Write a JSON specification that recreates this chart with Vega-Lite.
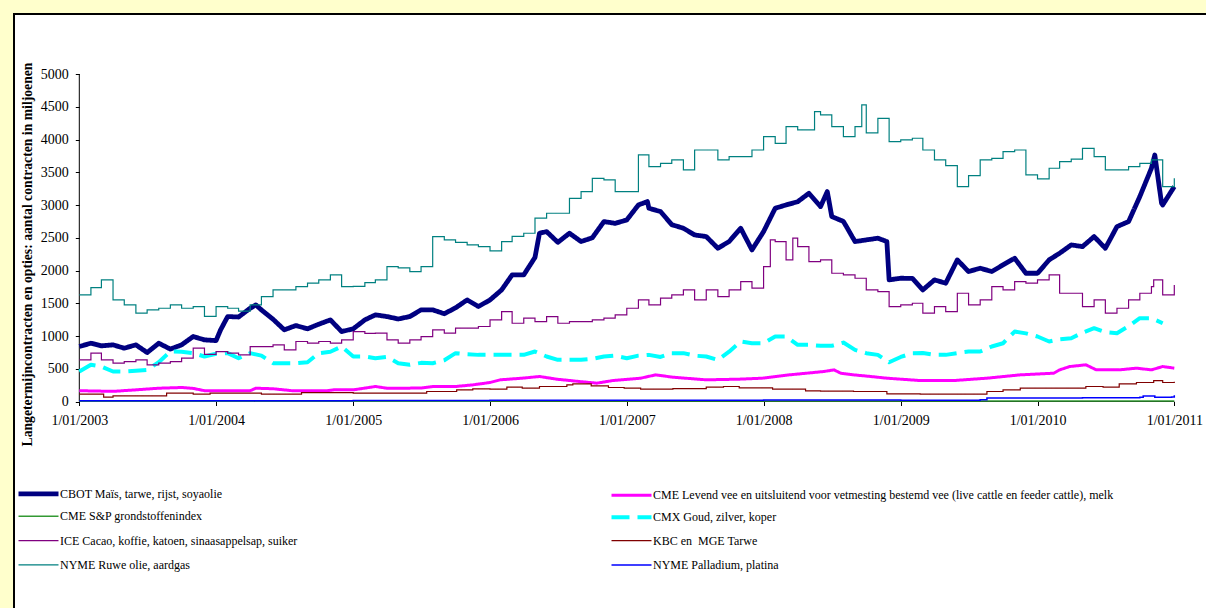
{
"$schema":"https://vega.github.io/schema/vega-lite/v6.json",
"width":1198,"height":600,
"autosize":{"type":"none"},
"padding":{"left":14,"top":14,"right":-6,"bottom":-6},
"background":"#FFFFCC",
"config":{"font":"Liberation Serif","view":{"fill":"white","stroke":"black","strokeWidth":2}},
"datasets":{
"names":[
{"code":"CBOT","name":"CBOT Maïs, tarwe, rijst, soyaolie"},
{"code":"CMELV","name":"CME Levend vee en uitsluitend voor vetmesting bestemd vee (live cattle en feeder cattle), melk"},
{"code":"CMESP","name":"CME S&P grondstoffenindex"},
{"code":"CMX","name":"CMX Goud, zilver, koper"},
{"code":"ICE","name":"ICE Cacao, koffie, katoen, sinaasappelsap, suiker"},
{"code":"KBC","name":"KBC en\u00a0 MGE Tarwe"},
{"code":"NYR","name":"NYME Ruwe olie, aardgas"},
{"code":"NYP","name":"NYME Palladium, platina"}
],
"pts":[
{"date":"2003-01-01","code":"NYR","value":1628},{"date":"2003-02-01","code":"NYR","value":1740},{"date":"2003-03-01","code":"NYR","value":1857},{"date":"2003-04-01","code":"NYR","value":1551},{"date":"2003-05-01","code":"NYR","value":1475},{"date":"2003-06-01","code":"NYR","value":1348},{"date":"2003-07-01","code":"NYR","value":1399},{"date":"2003-08-01","code":"NYR","value":1424},{"date":"2003-09-01","code":"NYR","value":1475},{"date":"2003-10-01","code":"NYR","value":1424},{"date":"2003-11-01","code":"NYR","value":1450},{"date":"2003-12-01","code":"NYR","value":1300},
{"date":"2004-01-01","code":"NYR","value":1450},{"date":"2004-02-01","code":"NYR","value":1424},{"date":"2004-03-01","code":"NYR","value":1380},{"date":"2004-04-01","code":"NYR","value":1475},{"date":"2004-05-01","code":"NYR","value":1602},{"date":"2004-06-01","code":"NYR","value":1704},{"date":"2004-07-01","code":"NYR","value":1704},{"date":"2004-08-01","code":"NYR","value":1755},{"date":"2004-09-01","code":"NYR","value":1806},{"date":"2004-10-01","code":"NYR","value":1857},{"date":"2004-11-01","code":"NYR","value":1933},{"date":"2004-12-01","code":"NYR","value":1755},
{"date":"2005-01-01","code":"NYR","value":1757},{"date":"2005-02-01","code":"NYR","value":1816},{"date":"2005-03-01","code":"NYR","value":1857},{"date":"2005-04-01","code":"NYR","value":2060},{"date":"2005-05-01","code":"NYR","value":2040},{"date":"2005-06-01","code":"NYR","value":1984},{"date":"2005-07-01","code":"NYR","value":2060},{"date":"2005-08-01","code":"NYR","value":2518},{"date":"2005-09-01","code":"NYR","value":2467},{"date":"2005-10-01","code":"NYR","value":2430},{"date":"2005-11-01","code":"NYR","value":2391},{"date":"2005-12-01","code":"NYR","value":2365},
{"date":"2006-01-01","code":"NYR","value":2300},{"date":"2006-02-01","code":"NYR","value":2442},{"date":"2006-03-01","code":"NYR","value":2520},{"date":"2006-04-01","code":"NYR","value":2569},{"date":"2006-05-01","code":"NYR","value":2800},{"date":"2006-06-01","code":"NYR","value":2874},{"date":"2006-07-01","code":"NYR","value":2874},{"date":"2006-08-01","code":"NYR","value":3100},{"date":"2006-09-01","code":"NYR","value":3205},{"date":"2006-10-01","code":"NYR","value":3408},{"date":"2006-11-01","code":"NYR","value":3383},{"date":"2006-12-01","code":"NYR","value":3205},
{"date":"2007-01-01","code":"NYR","value":3205},{"date":"2007-02-01","code":"NYR","value":3764},{"date":"2007-03-01","code":"NYR","value":3586},{"date":"2007-04-01","code":"NYR","value":3637},{"date":"2007-05-01","code":"NYR","value":3688},{"date":"2007-06-01","code":"NYR","value":3535},{"date":"2007-07-01","code":"NYR","value":3840},{"date":"2007-08-01","code":"NYR","value":3840},{"date":"2007-09-01","code":"NYR","value":3688},{"date":"2007-10-01","code":"NYR","value":3739},{"date":"2007-11-01","code":"NYR","value":3739},{"date":"2007-12-01","code":"NYR","value":3840},
{"date":"2008-01-01","code":"NYR","value":4044},{"date":"2008-02-01","code":"NYR","value":3942},{"date":"2008-03-01","code":"NYR","value":4197},{"date":"2008-04-01","code":"NYR","value":4146},{"date":"2008-05-01","code":"NYR","value":4146},{"date":"2008-05-16","code":"NYR","value":4426},{"date":"2008-06-01","code":"NYR","value":4375},{"date":"2008-07-01","code":"NYR","value":4197},{"date":"2008-08-01","code":"NYR","value":4044},{"date":"2008-09-01","code":"NYR","value":4197},{"date":"2008-09-19","code":"NYR","value":4530},{"date":"2008-10-01","code":"NYR","value":4100},{"date":"2008-11-01","code":"NYR","value":4324},{"date":"2008-12-01","code":"NYR","value":3968},
{"date":"2009-01-01","code":"NYR","value":3993},{"date":"2009-02-01","code":"NYR","value":4019},{"date":"2009-03-01","code":"NYR","value":3840},{"date":"2009-04-01","code":"NYR","value":3688},{"date":"2009-05-01","code":"NYR","value":3600},{"date":"2009-06-01","code":"NYR","value":3281},{"date":"2009-07-01","code":"NYR","value":3450},{"date":"2009-08-01","code":"NYR","value":3688},{"date":"2009-09-01","code":"NYR","value":3713},{"date":"2009-10-01","code":"NYR","value":3815},{"date":"2009-11-01","code":"NYR","value":3840},{"date":"2009-12-01","code":"NYR","value":3459},
{"date":"2010-01-01","code":"NYR","value":3400},{"date":"2010-02-01","code":"NYR","value":3561},{"date":"2010-03-01","code":"NYR","value":3662},{"date":"2010-04-01","code":"NYR","value":3700},{"date":"2010-05-01","code":"NYR","value":3866},{"date":"2010-06-01","code":"NYR","value":3739},{"date":"2010-07-01","code":"NYR","value":3535},{"date":"2010-08-01","code":"NYR","value":3535},{"date":"2010-09-01","code":"NYR","value":3586},{"date":"2010-10-01","code":"NYR","value":3637},{"date":"2010-11-01","code":"NYR","value":3688},{"date":"2010-12-01","code":"NYR","value":3281},{"date":"2011-01-01","code":"NYR","value":3408},

{"date":"2003-01-01","code":"CBOT","value":839},{"date":"2003-02-01","code":"CBOT","value":890},{"date":"2003-03-01","code":"CBOT","value":850},{"date":"2003-04-01","code":"CBOT","value":865},{"date":"2003-05-01","code":"CBOT","value":814},{"date":"2003-06-01","code":"CBOT","value":865},{"date":"2003-07-01","code":"CBOT","value":748},{"date":"2003-08-01","code":"CBOT","value":890},{"date":"2003-09-01","code":"CBOT","value":800},{"date":"2003-10-01","code":"CBOT","value":865},{"date":"2003-11-01","code":"CBOT","value":992},{"date":"2003-12-01","code":"CBOT","value":941},
{"date":"2004-01-01","code":"CBOT","value":930},{"date":"2004-01-13","code":"CBOT","value":1094},{"date":"2004-02-01","code":"CBOT","value":1297},{"date":"2004-03-01","code":"CBOT","value":1290},{"date":"2004-04-01","code":"CBOT","value":1424},{"date":"2004-04-16","code":"CBOT","value":1475},{"date":"2004-05-01","code":"CBOT","value":1399},{"date":"2004-06-01","code":"CBOT","value":1256},{"date":"2004-07-01","code":"CBOT","value":1094},{"date":"2004-08-01","code":"CBOT","value":1160},{"date":"2004-09-01","code":"CBOT","value":1110},{"date":"2004-10-01","code":"CBOT","value":1180},{"date":"2004-11-01","code":"CBOT","value":1246},{"date":"2004-12-01","code":"CBOT","value":1068},
{"date":"2005-01-01","code":"CBOT","value":1110},{"date":"2005-02-01","code":"CBOT","value":1246},{"date":"2005-03-01","code":"CBOT","value":1323},{"date":"2005-04-01","code":"CBOT","value":1297},{"date":"2005-05-01","code":"CBOT","value":1260},{"date":"2005-06-01","code":"CBOT","value":1297},{"date":"2005-07-01","code":"CBOT","value":1399},{"date":"2005-08-01","code":"CBOT","value":1399},{"date":"2005-09-01","code":"CBOT","value":1340},{"date":"2005-10-01","code":"CBOT","value":1430},{"date":"2005-11-01","code":"CBOT","value":1551},{"date":"2005-12-01","code":"CBOT","value":1450},
{"date":"2006-01-01","code":"CBOT","value":1551},{"date":"2006-02-01","code":"CBOT","value":1704},{"date":"2006-03-01","code":"CBOT","value":1933},{"date":"2006-04-01","code":"CBOT","value":1933},{"date":"2006-05-01","code":"CBOT","value":2200},{"date":"2006-05-13","code":"CBOT","value":2569},{"date":"2006-06-01","code":"CBOT","value":2594},{"date":"2006-07-01","code":"CBOT","value":2430},{"date":"2006-08-01","code":"CBOT","value":2569},{"date":"2006-09-01","code":"CBOT","value":2442},{"date":"2006-10-01","code":"CBOT","value":2500},{"date":"2006-11-01","code":"CBOT","value":2747},{"date":"2006-12-01","code":"CBOT","value":2720},
{"date":"2007-01-01","code":"CBOT","value":2772},{"date":"2007-02-01","code":"CBOT","value":3001},{"date":"2007-02-25","code":"CBOT","value":3052},{"date":"2007-03-01","code":"CBOT","value":2950},{"date":"2007-04-01","code":"CBOT","value":2900},{"date":"2007-05-01","code":"CBOT","value":2700},{"date":"2007-06-01","code":"CBOT","value":2645},{"date":"2007-07-01","code":"CBOT","value":2543},{"date":"2007-08-01","code":"CBOT","value":2518},{"date":"2007-09-01","code":"CBOT","value":2340},{"date":"2007-10-01","code":"CBOT","value":2442},{"date":"2007-11-01","code":"CBOT","value":2645},{"date":"2007-12-01","code":"CBOT","value":2315},
{"date":"2008-01-01","code":"CBOT","value":2594},{"date":"2008-02-01","code":"CBOT","value":2950},{"date":"2008-03-01","code":"CBOT","value":3001},{"date":"2008-04-01","code":"CBOT","value":3050},{"date":"2008-05-01","code":"CBOT","value":3179},{"date":"2008-06-01","code":"CBOT","value":2976},{"date":"2008-06-19","code":"CBOT","value":3205},{"date":"2008-07-01","code":"CBOT","value":2823},{"date":"2008-08-01","code":"CBOT","value":2750},{"date":"2008-09-01","code":"CBOT","value":2442},{"date":"2008-10-01","code":"CBOT","value":2467},{"date":"2008-11-01","code":"CBOT","value":2493},{"date":"2008-11-25","code":"CBOT","value":2442},{"date":"2008-12-01","code":"CBOT","value":1857},
{"date":"2009-01-01","code":"CBOT","value":1882},{"date":"2009-02-01","code":"CBOT","value":1880},{"date":"2009-03-01","code":"CBOT","value":1704},{"date":"2009-04-01","code":"CBOT","value":1857},{"date":"2009-05-01","code":"CBOT","value":1806},{"date":"2009-06-01","code":"CBOT","value":2162},{"date":"2009-07-01","code":"CBOT","value":1984},{"date":"2009-08-01","code":"CBOT","value":2035},{"date":"2009-09-01","code":"CBOT","value":1984},{"date":"2009-10-01","code":"CBOT","value":2086},{"date":"2009-11-01","code":"CBOT","value":2187},{"date":"2009-12-01","code":"CBOT","value":1958},
{"date":"2010-01-01","code":"CBOT","value":1958},{"date":"2010-02-01","code":"CBOT","value":2162},{"date":"2010-03-01","code":"CBOT","value":2264},{"date":"2010-04-01","code":"CBOT","value":2391},{"date":"2010-05-01","code":"CBOT","value":2365},{"date":"2010-06-01","code":"CBOT","value":2518},{"date":"2010-07-01","code":"CBOT","value":2340},{"date":"2010-08-01","code":"CBOT","value":2670},{"date":"2010-09-01","code":"CBOT","value":2747},{"date":"2010-10-01","code":"CBOT","value":3129},{"date":"2010-11-01","code":"CBOT","value":3561},{"date":"2010-11-10","code":"CBOT","value":3764},{"date":"2010-11-28","code":"CBOT","value":3027},{"date":"2010-12-01","code":"CBOT","value":3001},{"date":"2011-01-01","code":"CBOT","value":3281},

{"date":"2003-01-01","code":"ICE","value":636},{"date":"2003-02-01","code":"ICE","value":738},{"date":"2003-03-01","code":"ICE","value":636},{"date":"2003-04-01","code":"ICE","value":585},{"date":"2003-05-01","code":"ICE","value":610},{"date":"2003-06-01","code":"ICE","value":636},{"date":"2003-07-01","code":"ICE","value":560},{"date":"2003-08-01","code":"ICE","value":585},{"date":"2003-09-01","code":"ICE","value":610},{"date":"2003-10-01","code":"ICE","value":661},{"date":"2003-11-01","code":"ICE","value":814},{"date":"2003-12-01","code":"ICE","value":720},
{"date":"2004-01-01","code":"ICE","value":763},{"date":"2004-02-01","code":"ICE","value":738},{"date":"2004-03-01","code":"ICE","value":712},{"date":"2004-04-01","code":"ICE","value":839},{"date":"2004-05-01","code":"ICE","value":839},{"date":"2004-06-01","code":"ICE","value":865},{"date":"2004-07-01","code":"ICE","value":788},{"date":"2004-08-01","code":"ICE","value":916},{"date":"2004-09-01","code":"ICE","value":890},{"date":"2004-10-01","code":"ICE","value":916},{"date":"2004-11-01","code":"ICE","value":890},{"date":"2004-12-01","code":"ICE","value":941},
{"date":"2005-01-01","code":"ICE","value":1068},{"date":"2005-02-01","code":"ICE","value":1040},{"date":"2005-03-01","code":"ICE","value":1043},{"date":"2005-04-01","code":"ICE","value":941},{"date":"2005-05-01","code":"ICE","value":890},{"date":"2005-06-01","code":"ICE","value":941},{"date":"2005-07-01","code":"ICE","value":992},{"date":"2005-08-01","code":"ICE","value":1094},{"date":"2005-09-01","code":"ICE","value":1043},{"date":"2005-10-01","code":"ICE","value":1120},{"date":"2005-11-01","code":"ICE","value":1119},{"date":"2005-12-01","code":"ICE","value":1145},
{"date":"2006-01-01","code":"ICE","value":1246},{"date":"2006-02-01","code":"ICE","value":1373},{"date":"2006-03-01","code":"ICE","value":1195},{"date":"2006-04-01","code":"ICE","value":1272},{"date":"2006-05-01","code":"ICE","value":1221},{"date":"2006-06-01","code":"ICE","value":1297},{"date":"2006-07-01","code":"ICE","value":1195},{"date":"2006-08-01","code":"ICE","value":1221},{"date":"2006-09-01","code":"ICE","value":1221},{"date":"2006-10-01","code":"ICE","value":1246},{"date":"2006-11-01","code":"ICE","value":1272},{"date":"2006-12-01","code":"ICE","value":1323},
{"date":"2007-01-01","code":"ICE","value":1424},{"date":"2007-02-01","code":"ICE","value":1551},{"date":"2007-03-01","code":"ICE","value":1475},{"date":"2007-04-01","code":"ICE","value":1577},{"date":"2007-05-01","code":"ICE","value":1628},{"date":"2007-06-01","code":"ICE","value":1704},{"date":"2007-07-01","code":"ICE","value":1551},{"date":"2007-08-01","code":"ICE","value":1704},{"date":"2007-09-01","code":"ICE","value":1602},{"date":"2007-10-01","code":"ICE","value":1704},{"date":"2007-11-01","code":"ICE","value":1831},{"date":"2007-12-01","code":"ICE","value":1730},
{"date":"2008-01-01","code":"ICE","value":2060},{"date":"2008-01-19","code":"ICE","value":2467},{"date":"2008-02-01","code":"ICE","value":2442},{"date":"2008-03-01","code":"ICE","value":2162},{"date":"2008-03-19","code":"ICE","value":2493},{"date":"2008-04-01","code":"ICE","value":2365},{"date":"2008-05-01","code":"ICE","value":2137},{"date":"2008-06-01","code":"ICE","value":2162},{"date":"2008-07-01","code":"ICE","value":1958},{"date":"2008-08-01","code":"ICE","value":1933},{"date":"2008-09-01","code":"ICE","value":1882},{"date":"2008-10-01","code":"ICE","value":1704},{"date":"2008-11-01","code":"ICE","value":1679},{"date":"2008-12-01","code":"ICE","value":1450},
{"date":"2009-01-01","code":"ICE","value":1475},{"date":"2009-02-01","code":"ICE","value":1500},{"date":"2009-03-01","code":"ICE","value":1348},{"date":"2009-04-01","code":"ICE","value":1450},{"date":"2009-05-01","code":"ICE","value":1373},{"date":"2009-06-01","code":"ICE","value":1653},{"date":"2009-07-01","code":"ICE","value":1475},{"date":"2009-08-01","code":"ICE","value":1551},{"date":"2009-09-01","code":"ICE","value":1755},{"date":"2009-10-01","code":"ICE","value":1704},{"date":"2009-11-01","code":"ICE","value":1831},{"date":"2009-12-01","code":"ICE","value":1806},
{"date":"2010-01-01","code":"ICE","value":1857},{"date":"2010-02-01","code":"ICE","value":1933},{"date":"2010-03-01","code":"ICE","value":1653},{"date":"2010-04-01","code":"ICE","value":1653},{"date":"2010-05-01","code":"ICE","value":1450},{"date":"2010-06-01","code":"ICE","value":1551},{"date":"2010-07-01","code":"ICE","value":1348},{"date":"2010-08-01","code":"ICE","value":1424},{"date":"2010-09-01","code":"ICE","value":1551},{"date":"2010-10-01","code":"ICE","value":1653},{"date":"2010-11-01","code":"ICE","value":1755},{"date":"2010-11-07","code":"ICE","value":1857},{"date":"2010-12-01","code":"ICE","value":1628},{"date":"2011-01-01","code":"ICE","value":1780},

{"date":"2003-01-01","code":"CMX","value":458},{"date":"2003-02-01","code":"CMX","value":560},{"date":"2003-03-01","code":"CMX","value":534},{"date":"2003-04-01","code":"CMX","value":458},{"date":"2003-05-01","code":"CMX","value":458},{"date":"2003-06-01","code":"CMX","value":470},{"date":"2003-07-01","code":"CMX","value":483},{"date":"2003-08-01","code":"CMX","value":600},{"date":"2003-09-01","code":"CMX","value":763},{"date":"2003-10-01","code":"CMX","value":760},{"date":"2003-11-01","code":"CMX","value":738},{"date":"2003-12-01","code":"CMX","value":687},
{"date":"2004-01-01","code":"CMX","value":730},{"date":"2004-02-01","code":"CMX","value":738},{"date":"2004-03-01","code":"CMX","value":661},{"date":"2004-04-01","code":"CMX","value":738},{"date":"2004-05-01","code":"CMX","value":700},{"date":"2004-06-01","code":"CMX","value":585},{"date":"2004-07-01","code":"CMX","value":585},{"date":"2004-08-01","code":"CMX","value":585},{"date":"2004-09-01","code":"CMX","value":600},{"date":"2004-10-01","code":"CMX","value":738},{"date":"2004-11-01","code":"CMX","value":760},{"date":"2004-12-01","code":"CMX","value":839},
{"date":"2005-01-01","code":"CMX","value":687},{"date":"2005-02-01","code":"CMX","value":687},{"date":"2005-03-01","code":"CMX","value":661},{"date":"2005-04-01","code":"CMX","value":680},{"date":"2005-05-01","code":"CMX","value":585},{"date":"2005-06-01","code":"CMX","value":560},{"date":"2005-07-01","code":"CMX","value":590},{"date":"2005-08-01","code":"CMX","value":585},{"date":"2005-09-01","code":"CMX","value":630},{"date":"2005-10-01","code":"CMX","value":738},{"date":"2005-11-01","code":"CMX","value":720},{"date":"2005-12-01","code":"CMX","value":712},
{"date":"2006-01-01","code":"CMX","value":712},{"date":"2006-02-01","code":"CMX","value":712},{"date":"2006-03-01","code":"CMX","value":712},{"date":"2006-04-01","code":"CMX","value":712},{"date":"2006-05-01","code":"CMX","value":763},{"date":"2006-06-01","code":"CMX","value":687},{"date":"2006-07-01","code":"CMX","value":636},{"date":"2006-08-01","code":"CMX","value":636},{"date":"2006-09-01","code":"CMX","value":636},{"date":"2006-10-01","code":"CMX","value":650},{"date":"2006-11-01","code":"CMX","value":687},{"date":"2006-12-01","code":"CMX","value":700},
{"date":"2007-01-01","code":"CMX","value":661},{"date":"2007-02-01","code":"CMX","value":700},{"date":"2007-03-01","code":"CMX","value":712},{"date":"2007-04-01","code":"CMX","value":680},{"date":"2007-05-01","code":"CMX","value":738},{"date":"2007-06-01","code":"CMX","value":738},{"date":"2007-07-01","code":"CMX","value":700},{"date":"2007-08-01","code":"CMX","value":687},{"date":"2007-09-01","code":"CMX","value":636},{"date":"2007-10-01","code":"CMX","value":760},{"date":"2007-11-01","code":"CMX","value":916},{"date":"2007-12-01","code":"CMX","value":890},
{"date":"2008-01-01","code":"CMX","value":890},{"date":"2008-02-01","code":"CMX","value":992},{"date":"2008-03-01","code":"CMX","value":992},{"date":"2008-04-01","code":"CMX","value":865},{"date":"2008-05-01","code":"CMX","value":865},{"date":"2008-06-01","code":"CMX","value":850},{"date":"2008-07-01","code":"CMX","value":850},{"date":"2008-08-01","code":"CMX","value":900},{"date":"2008-09-01","code":"CMX","value":788},{"date":"2008-10-01","code":"CMX","value":738},{"date":"2008-11-01","code":"CMX","value":712},{"date":"2008-12-01","code":"CMX","value":600},
{"date":"2009-01-01","code":"CMX","value":680},{"date":"2009-02-01","code":"CMX","value":738},{"date":"2009-03-01","code":"CMX","value":740},{"date":"2009-04-01","code":"CMX","value":712},{"date":"2009-05-01","code":"CMX","value":712},{"date":"2009-06-01","code":"CMX","value":740},{"date":"2009-07-01","code":"CMX","value":763},{"date":"2009-08-01","code":"CMX","value":763},{"date":"2009-09-01","code":"CMX","value":840},{"date":"2009-10-01","code":"CMX","value":890},{"date":"2009-11-01","code":"CMX","value":1068},{"date":"2009-12-01","code":"CMX","value":1040},
{"date":"2010-01-01","code":"CMX","value":992},{"date":"2010-02-01","code":"CMX","value":916},{"date":"2010-03-01","code":"CMX","value":950},{"date":"2010-04-01","code":"CMX","value":966},{"date":"2010-05-01","code":"CMX","value":1050},{"date":"2010-06-01","code":"CMX","value":1119},{"date":"2010-07-01","code":"CMX","value":1060},{"date":"2010-08-01","code":"CMX","value":1043},{"date":"2010-09-01","code":"CMX","value":1150},{"date":"2010-10-01","code":"CMX","value":1272},{"date":"2010-11-01","code":"CMX","value":1272},{"date":"2010-12-01","code":"CMX","value":1195},

{"date":"2003-01-01","code":"CMELV","value":165},{"date":"2003-04-01","code":"CMELV","value":155},{"date":"2003-06-01","code":"CMELV","value":178},{"date":"2003-08-01","code":"CMELV","value":203},{"date":"2003-10-01","code":"CMELV","value":214},{"date":"2003-11-01","code":"CMELV","value":200},{"date":"2003-12-01","code":"CMELV","value":165},{"date":"2004-04-01","code":"CMELV","value":165},{"date":"2004-04-16","code":"CMELV","value":203},{"date":"2004-06-01","code":"CMELV","value":195},{"date":"2004-07-25","code":"CMELV","value":163},{"date":"2004-10-22","code":"CMELV","value":163},{"date":"2004-11-10","code":"CMELV","value":178},{"date":"2005-01-01","code":"CMELV","value":178},{"date":"2005-03-01","code":"CMELV","value":229},{"date":"2005-04-01","code":"CMELV","value":203},{"date":"2005-07-01","code":"CMELV","value":205},{"date":"2005-08-01","code":"CMELV","value":229},{"date":"2005-10-01","code":"CMELV","value":229},{"date":"2005-11-16","code":"CMELV","value":254},{"date":"2006-01-01","code":"CMELV","value":290},{"date":"2006-01-28","code":"CMELV","value":331},{"date":"2006-03-28","code":"CMELV","value":356},{"date":"2006-05-13","code":"CMELV","value":382},{"date":"2006-06-28","code":"CMELV","value":341},{"date":"2006-08-28","code":"CMELV","value":305},{"date":"2006-10-13","code":"CMELV","value":280},{"date":"2006-11-25","code":"CMELV","value":320},{"date":"2007-02-07","code":"CMELV","value":356},{"date":"2007-03-19","code":"CMELV","value":407},{"date":"2007-05-04","code":"CMELV","value":371},{"date":"2007-08-01","code":"CMELV","value":331},{"date":"2007-10-28","code":"CMELV","value":341},{"date":"2007-12-28","code":"CMELV","value":356},{"date":"2008-03-10","code":"CMELV","value":407},{"date":"2008-06-10","code":"CMELV","value":458},{"date":"2008-07-07","code":"CMELV","value":483},{"date":"2008-07-25","code":"CMELV","value":432},{"date":"2008-08-28","code":"CMELV","value":407},{"date":"2008-10-13","code":"CMELV","value":382},{"date":"2008-11-25","code":"CMELV","value":356},{"date":"2009-02-22","code":"CMELV","value":320},{"date":"2009-05-22","code":"CMELV","value":320},{"date":"2009-08-19","code":"CMELV","value":356},{"date":"2009-11-16","code":"CMELV","value":407},{"date":"2010-02-13","code":"CMELV","value":432},{"date":"2010-03-01","code":"CMELV","value":483},{"date":"2010-03-28","code":"CMELV","value":534},{"date":"2010-05-10","code":"CMELV","value":560},{"date":"2010-06-07","code":"CMELV","value":483},{"date":"2010-08-07","code":"CMELV","value":483},{"date":"2010-09-22","code":"CMELV","value":509},{"date":"2010-11-01","code":"CMELV","value":483},{"date":"2010-12-01","code":"CMELV","value":534},{"date":"2011-01-01","code":"CMELV","value":509},

{"date":"2003-01-01","code":"KBC","value":112},{"date":"2003-02-25","code":"KBC","value":112},{"date":"2003-03-07","code":"KBC","value":66},{"date":"2003-04-01","code":"KBC","value":86},{"date":"2003-08-01","code":"KBC","value":86},{"date":"2003-08-22","code":"KBC","value":127},{"date":"2003-11-01","code":"KBC","value":112},{"date":"2003-12-16","code":"KBC","value":127},{"date":"2004-05-01","code":"KBC","value":112},{"date":"2004-08-16","code":"KBC","value":137},{"date":"2005-01-01","code":"KBC","value":127},{"date":"2005-04-16","code":"KBC","value":127},{"date":"2005-07-16","code":"KBC","value":153},{"date":"2005-10-04","code":"KBC","value":178},{"date":"2005-11-16","code":"KBC","value":193},{"date":"2006-01-01","code":"KBC","value":188},{"date":"2006-02-15","code":"KBC","value":219},{"date":"2006-03-28","code":"KBC","value":203},{"date":"2006-05-13","code":"KBC","value":229},{"date":"2006-07-25","code":"KBC","value":254},{"date":"2006-08-10","code":"KBC","value":270},{"date":"2006-09-28","code":"KBC","value":239},{"date":"2006-11-13","code":"KBC","value":214},{"date":"2006-12-25","code":"KBC","value":203},{"date":"2007-02-07","code":"KBC","value":188},{"date":"2007-05-04","code":"KBC","value":198},{"date":"2007-08-01","code":"KBC","value":219},{"date":"2007-09-16","code":"KBC","value":229},{"date":"2007-10-28","code":"KBC","value":209},{"date":"2008-01-25","code":"KBC","value":188},{"date":"2008-04-22","code":"KBC","value":163},{"date":"2008-06-01","code":"KBC","value":160},{"date":"2008-08-28","code":"KBC","value":153},{"date":"2008-11-25","code":"KBC","value":117},{"date":"2009-02-22","code":"KBC","value":112},{"date":"2009-05-22","code":"KBC","value":112},{"date":"2009-08-19","code":"KBC","value":153},{"date":"2009-10-01","code":"KBC","value":178},{"date":"2009-11-16","code":"KBC","value":203},{"date":"2010-02-13","code":"KBC","value":203},{"date":"2010-05-10","code":"KBC","value":229},{"date":"2010-06-25","code":"KBC","value":219},{"date":"2010-08-07","code":"KBC","value":270},{"date":"2010-09-22","code":"KBC","value":290},{"date":"2010-11-07","code":"KBC","value":320},{"date":"2010-12-01","code":"KBC","value":290},{"date":"2011-01-01","code":"KBC","value":300},

{"date":"2003-01-01","code":"CMESP","value":5},{"date":"2004-01-01","code":"CMESP","value":5},{"date":"2005-01-01","code":"CMESP","value":5},{"date":"2006-01-01","code":"CMESP","value":6},{"date":"2007-01-01","code":"CMESP","value":8},{"date":"2008-01-01","code":"CMESP","value":8},{"date":"2009-01-01","code":"CMESP","value":8},{"date":"2010-01-01","code":"CMESP","value":8},{"date":"2011-01-01","code":"CMESP","value":8},

{"date":"2003-01-01","code":"NYP","value":12},{"date":"2004-01-01","code":"NYP","value":12},{"date":"2005-01-01","code":"NYP","value":15},{"date":"2006-01-01","code":"NYP","value":18},{"date":"2007-01-01","code":"NYP","value":20},{"date":"2008-01-01","code":"NYP","value":22},{"date":"2009-01-01","code":"NYP","value":20},{"date":"2009-08-01","code":"NYP","value":25},{"date":"2009-08-19","code":"NYP","value":55},{"date":"2010-05-01","code":"NYP","value":58},{"date":"2010-10-01","code":"NYP","value":65},{"date":"2010-10-10","code":"NYP","value":85},{"date":"2010-11-10","code":"NYP","value":65},{"date":"2010-12-25","code":"NYP","value":70},{"date":"2011-01-01","code":"NYP","value":95}
]},
"layer":[
{"data":{"values":[{}]},
 "mark":{"type":"rule","color":"black","strokeWidth":1},
 "encoding":{
  "x":{"datum":{"year":2003,"month":1,"date":1,"utc":true},"type":"temporal",
   "scale":{"type":"utc","domain":[{"year":2002,"month":7,"date":10,"hours":18,"utc":true},{"year":2011,"month":4,"date":11,"hours":14,"minutes":24,"utc":true}],"nice":false},
   "axis":{"title":null,"values":[{"year":2003,"month":1,"date":1,"utc":true},{"year":2004,"month":1,"date":1,"utc":true},{"year":2005,"month":1,"date":1,"utc":true},{"year":2006,"month":1,"date":1,"utc":true},{"year":2007,"month":1,"date":1,"utc":true},{"year":2008,"month":1,"date":1,"utc":true},{"year":2009,"month":1,"date":1,"utc":true},{"year":2010,"month":1,"date":1,"utc":true},{"year":2011,"month":1,"date":1,"utc":true}],
    "labelExpr":"utcFormat(datum.value, '%-d/%m/%Y')","domain":false,"grid":false,"offset":-212.5,"tickSize":4,"tickColor":"black","labelFont":"Liberation Serif","labelFontSize":14,"labelColor":"black","labelPadding":8,"labelFlush":false,"labelOverlap":false}},
  "y":{"datum":0,"type":"quantitative",
   "scale":{"domain":[-3244,5916],"nice":false,"zero":false},
   "axis":{"title":"Langetermijncontracten en opties: aantal contracten in miljoenen","values":[0,500,1000,1500,2000,2500,3000,3500,4000,4500,5000],"format":"d","domain":false,"grid":false,"offset":-65.3,"tickSize":4,"tickColor":"black","labelFont":"Liberation Serif","labelFontSize":14,"labelColor":"black","labelPadding":7,
    "titleFont":"Liberation Serif","titleFontSize":13.7,"titleFontWeight":"bold","titleColor":"black","titleX":-51.8,"titleY":240,"titleAngle":270,"titleAlign":"center","titleBaseline":"middle"}},
  "y2":{"datum":5000}}},
{"data":{"values":[{}]},
 "mark":{"type":"rule","color":"black","strokeWidth":1},
 "encoding":{
  "x":{"datum":{"year":2003,"month":1,"date":1,"utc":true},"type":"temporal"},
  "x2":{"datum":{"year":2011,"month":1,"date":1,"utc":true}},
  "y":{"datum":0,"type":"quantitative"}}},
{"data":{"name":"pts"},
 "transform":[{"lookup":"code","from":{"data":{"name":"names"},"key":"code","fields":["name"]}}],
 "encoding":{
  "x":{"field":"date","type":"temporal"},
  "y":{"field":"value","type":"quantitative"},
  "color":{"field":"name","type":"nominal",
   "scale":{"domain":["CBOT Maïs, tarwe, rijst, soyaolie","CME S&P grondstoffenindex","ICE Cacao, koffie, katoen, sinaasappelsap, suiker","NYME Ruwe olie, aardgas","CME Levend vee en uitsluitend voor vetmesting bestemd vee (live cattle en feeder cattle), melk","CMX Goud, zilver, koper","KBC en\u00a0 MGE Tarwe","NYME Palladium, platina"],
    "range":["#000080","#339933","#800080","#008080","#FF00FF","#00FFFF","#800000","#0000FF"]},
   "legend":{"title":null,"orient":"none","legendX":17,"legendY":472,"columns":2,"gridAlign":"all","symbolType":"M-4,0H4","symbolSize":100,"labelFont":"Liberation Serif","labelFontSize":12,"labelColor":"black","labelLimit":900,"labelOffset":14,"columnPadding":82,"rowPadding":5.3,"padding":0}},
  "strokeWidth":{"field":"name","type":"nominal",
   "scale":{"type":"ordinal","domain":["CBOT Maïs, tarwe, rijst, soyaolie","CME S&P grondstoffenindex","ICE Cacao, koffie, katoen, sinaasappelsap, suiker","NYME Ruwe olie, aardgas","CME Levend vee en uitsluitend voor vetmesting bestemd vee (live cattle en feeder cattle), melk","CMX Goud, zilver, koper","KBC en\u00a0 MGE Tarwe","NYME Palladium, platina"],
    "range":[4.8,1.5,1.2,1.2,3,4,1.2,1.5]},"legend":{"title":null}},
  "strokeDash":{"field":"name","type":"nominal",
   "scale":{"type":"ordinal","domain":["CBOT Maïs, tarwe, rijst, soyaolie","CME S&P grondstoffenindex","ICE Cacao, koffie, katoen, sinaasappelsap, suiker","NYME Ruwe olie, aardgas","CME Levend vee en uitsluitend voor vetmesting bestemd vee (live cattle en feeder cattle), melk","CMX Goud, zilver, koper","KBC en\u00a0 MGE Tarwe","NYME Palladium, platina"],
    "range":[[1,0],[1,0],[1,0],[1,0],[1,0],[18,8],[1,0],[1,0]]},"legend":{"title":null}}},
 "layer":[
  {"transform":[{"filter":{"field":"code","oneOf":["CBOT","CMX","CMELV"]}}],
   "mark":{"type":"line","interpolate":"linear","strokeJoin":"round"}},
  {"transform":[{"filter":{"field":"code","oneOf":["ICE","KBC","NYR","NYP","CMESP"]}}],
   "mark":{"type":"line","interpolate":"step-after"}}
 ]}
]
}
